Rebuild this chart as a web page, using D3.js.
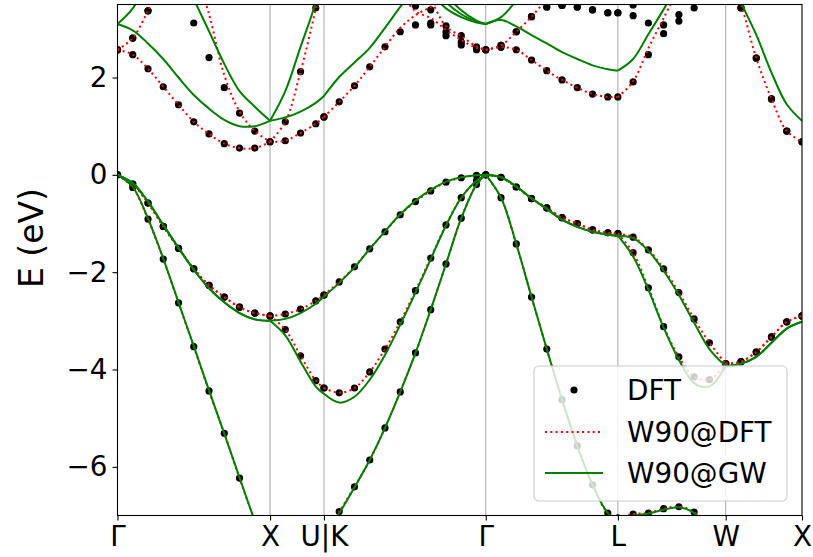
<!DOCTYPE html>
<html>
<head>
<meta charset="utf-8">
<script src="https://cdn.jsdelivr.net/npm/d3@7"></script>
<style>
  body { margin: 0; background: #fff; }
  svg { display: block; }
  text { font-family: "DejaVu Sans", sans-serif; fill: #000; }
</style>
</head>
<body>
<svg id="chart" width="813" height="557"></svg>
<script>
// ---- k-path: Γ–X–U|K–Γ–L–W–X (units of 2π/a) ----
const symLabels = ["Γ", "X", "U|K", "Γ", "L", "W", "X"];
const symK = [0, 1.0, 1.35355, 2.41421, 3.28024, 3.98735, 4.48735];

// sampled k-points (U and K share one position)
const kPath = [
  0, 0.1, 0.2, 0.3, 0.4, 0.5, 0.6, 0.7, 0.8, 0.9, 1.0,
  1.1, 1.2, 1.3, 1.35355,
  1.35355, 1.45355, 1.55355, 1.65355, 1.75355, 1.85355, 1.95355, 2.05355, 2.15355, 2.25355, 2.35355, 2.41421,
  2.51421, 2.61421, 2.71421, 2.81421, 2.91421, 3.01421, 3.11421, 3.21421, 3.28024,
  3.38024, 3.48024, 3.58024, 3.68024, 3.78024, 3.88024, 3.98735,
  4.08735, 4.18735, 4.28735, 4.38735, 4.48735
];
// index ranges of the path segments
const segments = [[0, 10], [10, 14], [15, 26], [26, 35], [35, 42], [42, 47]];
const yTicks = [-6, -4, -2, 0, 2];

const N = kPath.length;
function span(start, values) {
  const a = new Array(N).fill(null);
  values.forEach((v, i) => { a[start + i] = v; });
  return a;
}

// ---- DFT eigenvalues (eV), one array per band ----
const dftBand2 = [
  0, -0.26, -0.91, -1.73, -2.63, -3.53, -4.44, -5.31, -6.23, -7.1, -7.8,
  -7.75, -7.65, -7.5, -7.4,
  -7.4, -6.92, -6.41, -5.86, -5.20, -4.46, -3.66, -2.77, -1.83, -0.89, -0.20, 0,
  -0.47, -1.42, -2.51, -3.58, -4.62, -5.57, -6.37, -6.95, -7.05,
  -6.97, -6.95, -6.86, -6.82, -6.93, -7.3, -7.9,
  -7.9, -7.88, -7.85, -7.82, -7.8
];
const dftBand3 = [
  0, -0.19, -0.58, -1.06, -1.51, -1.93, -2.27, -2.51, -2.72, -2.84, -2.90,
  -3.18, -3.72, -4.23, -4.38,
  -4.38, -4.48, -4.38, -4.05, -3.58, -3.02, -2.38, -1.71, -1.03, -0.47, -0.12, 0,
  -0.05, -0.25, -0.49, -0.68, -0.88, -1.00, -1.13, -1.19, -1.21,
  -1.60, -2.32, -3.12, -3.74, -4.15, -4.21, -3.88,
  -3.84, -3.64, -3.33, -3.02, -2.90
];
const dftBand4 = [
  0, -0.19, -0.58, -1.06, -1.51, -1.93, -2.27, -2.51, -2.72, -2.84, -2.90,
  -2.86, -2.76, -2.59, -2.47,
  -2.47, -2.20, -1.89, -1.52, -1.17, -0.82, -0.55, -0.33, -0.15, -0.06, -0.01, 0,
  -0.05, -0.25, -0.49, -0.68, -0.88, -1.00, -1.13, -1.19, -1.21,
  -1.28, -1.54, -1.93, -2.42, -2.96, -3.45, -3.88,
  -3.84, -3.64, -3.33, -3.02, -2.90
];
const dftBand5 = [
  2.57, 2.47, 2.18, 1.81, 1.44, 1.09, 0.84, 0.64, 0.55, 0.55, 0.68,
  0.70, 0.86, 1.05, 1.19,
  1.19, 1.50, 1.83, 2.22, 2.63, 2.94, 3.08, 3.08, 2.86, 2.67, 2.57, 2.57,
  2.62, 2.57, 2.36, 2.14, 1.95, 1.79, 1.66, 1.60, 1.60,
  1.91, 2.47, 2.90, 3.16, 3.43, null, null,
  3.43, 2.40, 1.56, 0.90, 0.68
];
const dftBand6 = [
  2.57, 2.81, 3.37, null, null, 3.12, 2.41, 1.79, 1.27, 0.90, 0.68,
  1.09, 2.12, 3.43, null,
  null, null, null, null, null, null, 3.47, 3.12, 2.94, 2.73, 2.60, 2.57,
  2.66, 2.94, 3.25, 3.45, 3.48, 3.45, 3.39, 3.33, 3.33,
  3.27, 3.12, 3.08, 3.29, null, null, null,
  3.43, 2.40, 1.56, 0.90, 0.68
];
const dftBand7 = [
  2.57, 2.81, 3.37, null, null, null, null, null, null, null, null,
  null, null, null, null,
  null, null, null, null, null, null, null, 3.39, 3.06, 2.86, 2.63, 2.57,
  2.66, 2.94, 3.25, 3.45, 3.48, 3.45, 3.39, 3.33, 3.33,
  3.49, null, null, null, null, null, null,
  null, null, null, null, null
];
const dftBands = [dftBand2, dftBand3, dftBand4, dftBand5, dftBand6, dftBand7];

// ---- Wannier-interpolated bands from DFT: conduction branches ----
// (valence W90@DFT bands follow dftBand2..4)
const w90DftCond = [
  span(0, [2.57, 2.47, 2.18, 1.81, 1.44, 1.09, 0.84, 0.64, 0.55, 0.55, 0.68,
           0.70, 0.86, 1.05, 1.19,
           1.19, 1.50, 1.83, 2.22, 2.63, 3.02, 3.28, 3.45, 3.62]),
  span(0, [2.57, 2.81, 3.37, 3.95]),
  span(5, [4.3, 3.3, 2.05, 1.30, 0.90, 0.68, 1.09, 2.12, 3.43, 4.3]),
  span(20, [3.75, 3.36, 3.22, 2.98, 2.77, 2.61, 2.57,
            2.62, 2.57, 2.36, 2.14, 1.95, 1.79, 1.66, 1.60, 1.60,
            1.92, 2.60, 3.22, 3.85]),
  span(21, [4.1, 3.6, 3.05, 2.85, 2.64, 2.57, 2.66, 2.94, 3.25, 3.62]),
  span(42, [4.3, 3.5, 2.40, 1.56, 0.90, 0.68])
];

// ---- Wannier-interpolated GW bands ----
const gwBand2 = [
  0, -0.25, -0.90, -1.72, -2.62, -3.52, -4.43, -5.32, -6.22, -7.1, -7.8,
  -7.75, -7.65, -7.5, -7.4,
  -7.4, -6.95, -6.42, -5.86, -5.20, -4.46, -3.66, -2.77, -1.83, -0.89, -0.20, 0,
  -0.47, -1.42, -2.51, -3.58, -4.62, -5.57, -6.37, -6.95, -7.1,
  -7.0, -6.96, -6.88, -6.83, -6.95, -7.3, -7.9,
  -7.9, -7.88, -7.85, -7.82, -7.8
];
const gwBand3 = [
  0, -0.17, -0.55, -1.03, -1.50, -1.95, -2.33, -2.62, -2.84, -2.97, -3.00,
  -3.30, -3.84, -4.35, -4.50,
  -4.50, -4.68, -4.56, -4.21, -3.70, -3.08, -2.42, -1.73, -1.04, -0.47, -0.12, 0,
  -0.05, -0.24, -0.48, -0.70, -0.92, -1.07, -1.17, -1.23, -1.25,
  -1.68, -2.36, -3.14, -3.80, -4.28, -4.35, -3.93,
  -3.88, -3.74, -3.45, -3.16, -3.02
];
const gwBand4 = [
  0, -0.17, -0.55, -1.03, -1.50, -1.95, -2.33, -2.62, -2.84, -2.97, -3.00,
  -2.96, -2.84, -2.65, -2.50,
  -2.50, -2.22, -1.90, -1.52, -1.16, -0.81, -0.53, -0.31, -0.14, -0.05, -0.01, 0,
  -0.05, -0.24, -0.48, -0.70, -0.92, -1.07, -1.17, -1.23, -1.25,
  -1.30, -1.56, -1.97, -2.47, -3.04, -3.58, -3.93,
  -3.88, -3.74, -3.45, -3.16, -3.02
];
const gwCond = [
  span(0, [3.10, 2.97, 2.70, 2.38, 2.00, 1.64, 1.36, 1.13, 1.00, 1.00, 1.11,
           1.18, 1.30, 1.48, 1.62,
           1.62, 2.01, 2.31, 2.61, 3.02, 3.45, 3.85]),
  span(0, [3.10, 3.42, 4.0]),
  span(4, [4.4, 3.62, 2.95, 2.28, 1.72, 1.40, 1.11, 1.72, 2.63, 3.55, 4.3]),
  span(22, [3.75, 3.42, 3.24, 3.13, 3.10,
            3.18, 3.05, 2.87, 2.70, 2.52, 2.38, 2.25, 2.17, 2.14,
            2.38, 2.89, 3.40, 3.95]),
  span(22, [3.95, 3.55, 3.30, 3.15, 3.10, 3.24, 3.58, 4.0]),
  span(22, [4.3, 3.72, 3.38, 3.17, 3.10]),
  span(42, [4.4, 3.55, 2.88, 2.10, 1.45, 1.11])
];

const legendLabels = ["DFT", "W90@DFT", "W90@GW"];

// ---- layout ----
const svg = d3.select("#chart");
const plot = { left: 117.5, right: 802, top: 4.5, bottom: 515.5 };
const x = d3.scaleLinear().domain([symK[0], symK[symK.length - 1]]).range([plot.left, plot.right]);
const y = d3.scaleLinear().domain([-7, 3.5]).range([plot.bottom, plot.top]);

svg.append("defs").append("clipPath").attr("id", "plotClip")
  .append("rect")
  .attr("x", plot.left).attr("y", plot.top)
  .attr("width", plot.right - plot.left).attr("height", plot.bottom - plot.top);

// vertical lines at high-symmetry points
svg.append("g").selectAll("line")
  .data(symK.slice(1, -1))
  .join("line")
  .attr("x1", d => x(d)).attr("x2", d => x(d))
  .attr("y1", plot.top).attr("y2", plot.bottom)
  .attr("stroke", "#a6a6a6").attr("stroke-width", 1);

const body = svg.append("g").attr("clip-path", "url(#plotClip)");

// DFT points
const dots = [];
dftBands.forEach(band => band.forEach((e, i) => { if (e != null) dots.push({ k: kPath[i], e }); }));
body.append("g").selectAll("circle")
  .data(dots)
  .join("circle")
  .attr("cx", d => x(d.k)).attr("cy", d => y(d.e))
  .attr("r", 3.6).attr("fill", "#000");

// band lines, each path segment drawn as its own smooth piece
const lineGen = d3.line()
  .defined(d => d.e != null)
  .x(d => x(d.k)).y(d => y(d.e))
  .curve(d3.curveCatmullRom.alpha(0.5));

function bandPath(vals) {
  return segments.map(([a, b]) => {
    const pts = d3.range(a, b + 1).map(i => ({ k: kPath[i], e: vals[i] }));
    const nDef = pts.filter(p => p.e != null).length;
    return nDef >= 2 ? lineGen(pts) : "";
  }).join("");
}

const redBands = [dftBand2, dftBand3, dftBand4, ...w90DftCond];
body.append("g").selectAll("path")
  .data(redBands)
  .join("path")
  .attr("d", bandPath)
  .attr("fill", "none")
  .attr("stroke", "#ff0000")
  .attr("stroke-width", 2)
  .attr("stroke-dasharray", "2,3.3");

const greenBands = [gwBand2, gwBand3, gwBand4, ...gwCond];
body.append("g").selectAll("path")
  .data(greenBands)
  .join("path")
  .attr("d", bandPath)
  .attr("fill", "none")
  .attr("stroke", "#008000")
  .attr("stroke-width", 2);

// axes frame
svg.append("rect")
  .attr("x", plot.left).attr("y", plot.top)
  .attr("width", plot.right - plot.left).attr("height", plot.bottom - plot.top)
  .attr("fill", "none").attr("stroke", "#000").attr("stroke-width", 1.1);

const fontSize = 27.8;

// y axis
const yAxis = d3.axisLeft(y).tickValues(yTicks)
  .tickSize(5).tickPadding(5)
  .tickFormat(d => d < 0 ? "\u2212" + Math.abs(d) : String(d));
const gy = svg.append("g").attr("transform", `translate(${plot.left},0)`).call(yAxis);
gy.select(".domain").remove();
gy.selectAll(".tick line").attr("stroke", "#000").attr("stroke-width", 1.1);
gy.selectAll(".tick text").style("font-size", fontSize + "px").attr("fill", "#000");

// x axis with high-symmetry labels
const xAxis = d3.axisBottom(x).tickValues(symK)
  .tickSize(5).tickPadding(6)
  .tickFormat((d, i) => symLabels[i]);
const gx = svg.append("g").attr("transform", `translate(0,${plot.bottom})`).call(xAxis);
gx.select(".domain").remove();
gx.selectAll(".tick line").attr("stroke", "#000").attr("stroke-width", 1.1);
gx.selectAll(".tick text").style("font-size", fontSize + "px").attr("fill", "#000");

// y label
svg.append("text")
  .attr("transform", "translate(43,238) rotate(-90)")
  .attr("text-anchor", "middle")
  .style("font-size", "33px")
  .text("E (eV)");

// legend
const lg = svg.append("g").attr("transform", "translate(534,366)");
lg.append("rect")
  .attr("width", 253).attr("height", 135).attr("rx", 5)
  .attr("fill", "#fff").attr("fill-opacity", 0.8)
  .attr("stroke", "#cccccc").attr("stroke-width", 1.1);
const rowY = [24, 66, 107];
lg.append("circle").attr("cx", 40).attr("cy", rowY[0]).attr("r", 3.6).attr("fill", "#000");
lg.append("line").attr("x1", 11).attr("x2", 69).attr("y1", rowY[1]).attr("y2", rowY[1])
  .attr("stroke", "#ff0000").attr("stroke-width", 2).attr("stroke-dasharray", "2,3.3");
lg.append("line").attr("x1", 11).attr("x2", 69).attr("y1", rowY[2]).attr("y2", rowY[2])
  .attr("stroke", "#008000").attr("stroke-width", 2);
lg.selectAll("text.lab")
  .data(legendLabels)
  .join("text")
  .attr("class", "lab")
  .attr("x", 93).attr("y", (d, i) => rowY[i])
  .attr("dy", "0.36em")
  .style("font-size", fontSize + "px")
  .text(d => d);
</script>
</body>
</html>
